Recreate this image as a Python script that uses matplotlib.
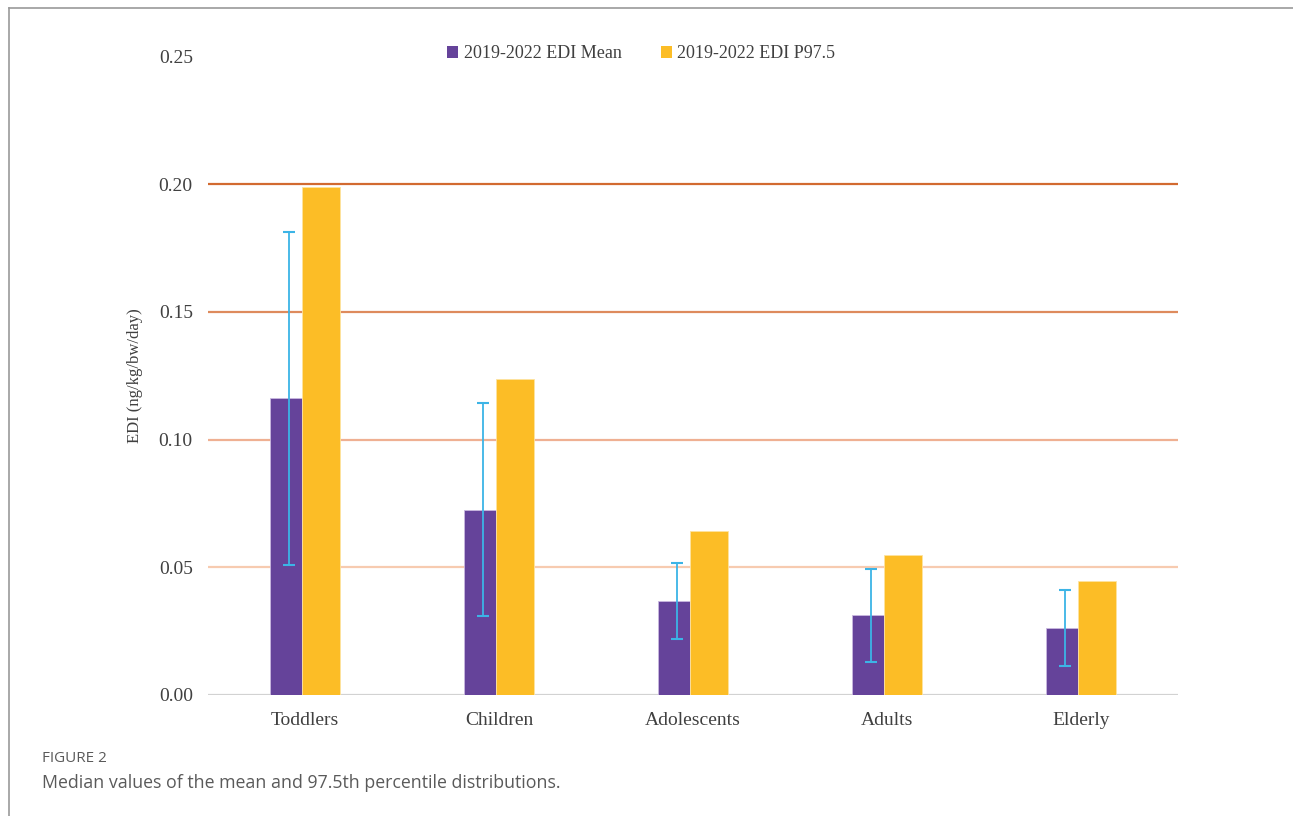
import numpy as np
import matplotlib.pyplot as plt
from matplotlib.lines import Line2D
from matplotlib.patches import Patch

groups = ['Toddlers', 'Children', 'Adolescents', 'Adults', 'Elderly']
edi_mean = [0.1162, 0.0724, 0.0368, 0.0313, 0.0262]
edi_p975 = [0.1988, 0.1237, 0.0642, 0.0548, 0.0446]
err_low = [0.0509, 0.0309, 0.0219, 0.0129, 0.0114]
err_high = [0.1812, 0.1143, 0.0517, 0.0493, 0.0411]
yticks = [0.00, 0.05, 0.10, 0.15, 0.20, 0.25]
grid_colors = ['#d2d2d2', '#f7cbb0', '#efb092', '#de8b5d', '#d26a30']

purple = '#65439a'
yellow = '#fcbd26'
blue = '#3cb4e6'

fig = plt.figure(figsize=(12.93, 8.16), dpi=100)
ax = fig.add_axes([0.1609, 0.1483, 0.7502, 0.7825])

x = np.arange(len(groups))
w1, w2 = 0.165, 0.196
left = x - (w1 + w2) / 2

for yv, c in zip(yticks[:-1], grid_colors):
    ax.axhline(yv, color=c, lw=1.6, zorder=0)

ax.bar(left, edi_mean, width=w1, align='edge', color=purple,
       edgecolor='#c9b8e0', linewidth=0.6, zorder=2)
ax.bar(left + w1, edi_p975, width=w2, align='edge', color=yellow,
       edgecolor='#fde3a0', linewidth=0.6, zorder=2)

ex = left + w1 / 2 + 0.013
mean = np.array(edi_mean)
ax.errorbar(ex, mean, yerr=[mean - np.array(err_low), np.array(err_high) - mean],
            fmt='none', ecolor=blue, elinewidth=1.3, capsize=4, capthick=1.5, zorder=3)

ax.set_xlim(-0.5, 4.5)
ax.set_ylim(0, 0.25)
ax.set_yticks(yticks)
ax.set_yticklabels([f'{v:.2f}' for v in yticks])
ax.set_xticks(x)
ax.set_xticklabels(groups)
for s in ax.spines.values():
    s.set_visible(False)
ax.tick_params(length=0, labelsize=14, colors='#404040')
ax.tick_params(axis='y', pad=11)
ax.tick_params(axis='x', pad=12)
for lab in ax.get_xticklabels() + ax.get_yticklabels():
    lab.set_family('Liberation Serif')
ax.set_ylabel('EDI (ng/kg/bw/day)', family='Liberation Serif', fontsize=12,
              color='#404040', labelpad=11)

handles = [Patch(facecolor=purple, label='2019-2022 EDI Mean'),
           Patch(facecolor=yellow, label='2019-2022 EDI P97.5')]
fig.legend(handles=handles, loc='center', bbox_to_anchor=(0.496, 1 - 54 / 816),
           ncol=2, frameon=False, handlelength=0.6, handleheight=0.6,
           handletextpad=0.3, columnspacing=2.2,
           prop={'family': 'Liberation Serif', 'size': 13}, labelcolor='#404040')

# frame around the figure panel
fig.add_artist(Line2D([9 / 1293, 1], [1 - 8 / 816] * 2, color='#9a9a9a', lw=1.2))
fig.add_artist(Line2D([9 / 1293] * 2, [0, 1 - 8 / 816], color='#9a9a9a', lw=1.2))

fig.text(42 / 1293, 1 - 758 / 816, 'FIGURE 2', family='Open Sans', fontsize=11,
         color='#5a5a5a', va='center')
fig.text(42 / 1293, 1 - 783 / 816,
         'Median values of the mean and 97.5th percentile distributions.',
         family='Open Sans', fontsize=12.8, color='#5a5a5a', va='center')

fig.savefig('out.png', dpi=100)
